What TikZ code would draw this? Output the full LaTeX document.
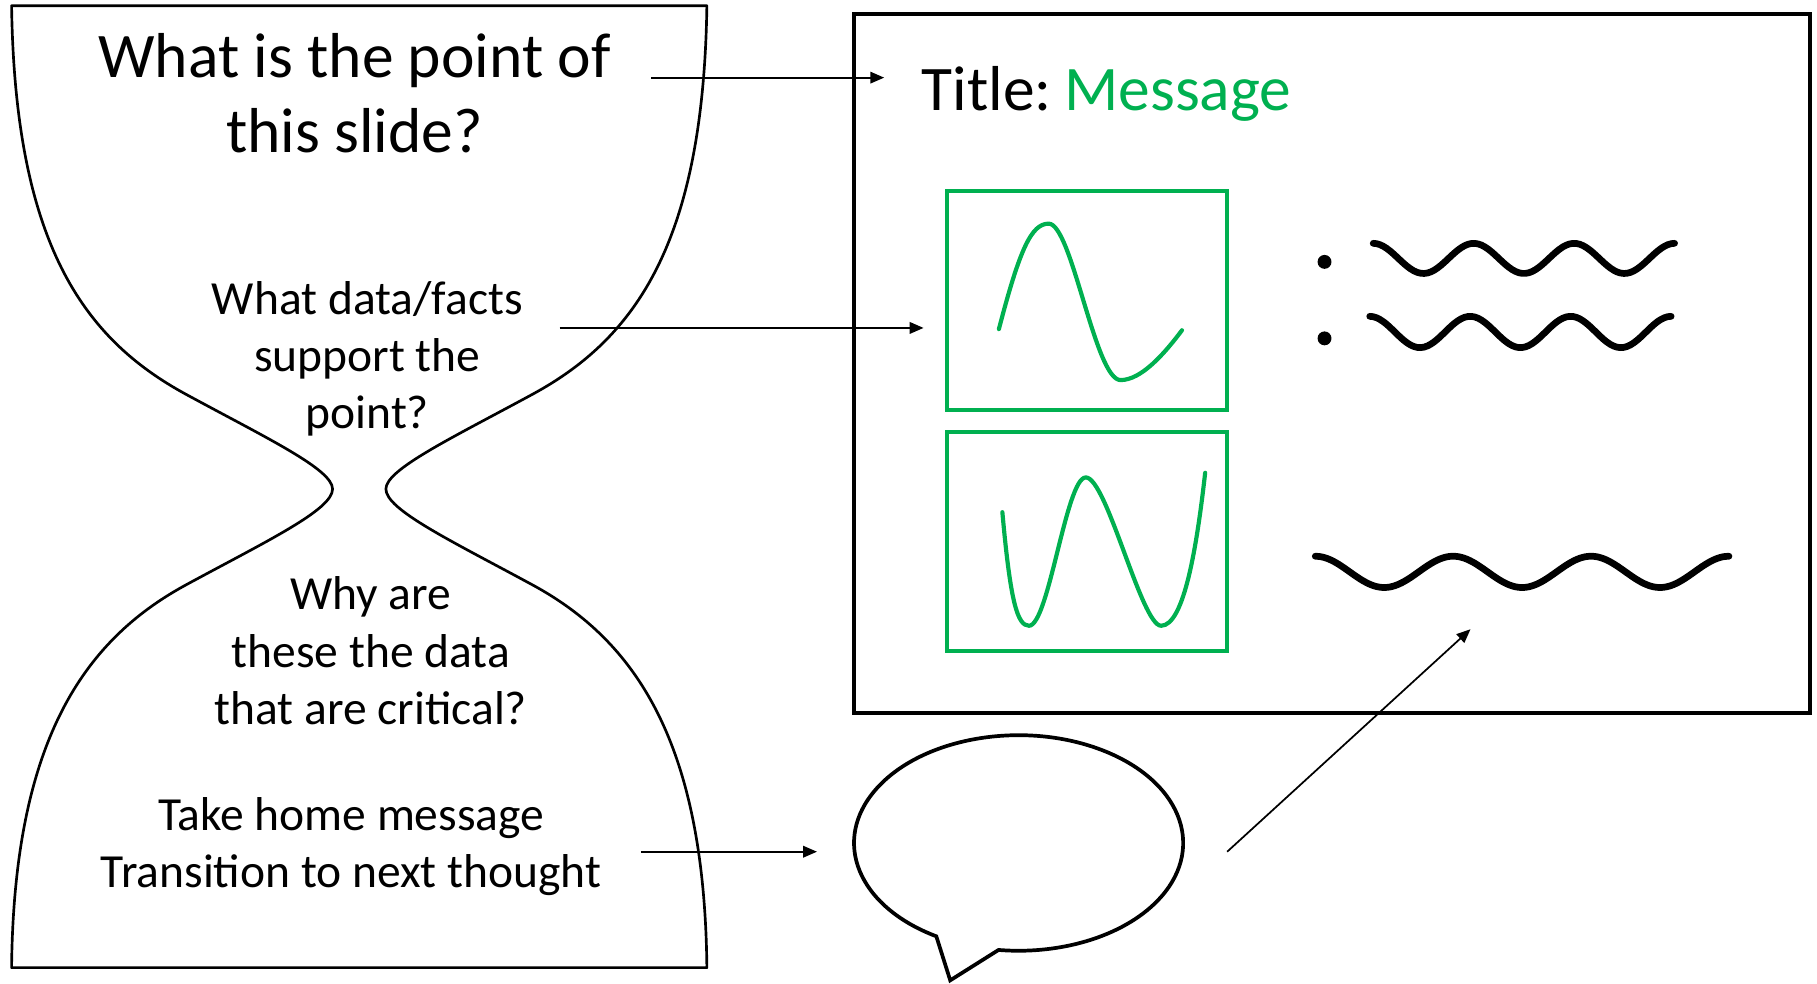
\documentclass[tikz,border=0pt]{standalone}
\usepackage{fontspec}
\setmainfont{Carlito}
\usetikzlibrary{arrows.meta}
\definecolor{msggreen}{RGB}{0,176,80}
\begin{document}
\begin{tikzpicture}[x={(0.5pt,0)}, y={(0,-0.5pt)},
  outline/.style={line width=1.15pt, line join=round},
  big/.style={font=\fontsize{27.4}{32}\selectfont, anchor=base, inner sep=0pt},
  mid/.style={font=\fontsize{20.5}{24.5}\selectfont, anchor=base, inner sep=0pt},
  link/.style={line width=0.75pt, -{Triangle[length=6pt,width=5pt]}},
  chartbox/.style={draw=msggreen, line width=1.8pt},
  chartline/.style={draw=msggreen, line width=1.8pt, line cap=round},
  squiggle/.style={line width=2.9pt, line cap=round},
]
\useasboundingbox (0,0) rectangle (1568,849);

% hourglass
\draw[outline] (10,5) .. controls (13,210) and (72,292) .. (160,340)
  .. controls (230,378) and (287,405) .. (287,422)
  .. controls (287,440) and (230,467) .. (160,505)
  .. controls (72,553) and (12,640) .. (10,835)
  -- (610,835)
  .. controls (608,640) and (548,553) .. (460,505)
  .. controls (390,467) and (333,440) .. (333,422)
  .. controls (333,405) and (390,378) .. (460,340)
  .. controls (548,292) and (607,210) .. (610,5) -- cycle;

% texts in hourglass
\node[big] (q1a) at (306,67) {What is the point of};
\node[big] (q1b) at (306,132) {this slide?};
\node[mid] (q2a) at (317,271) {What data/facts};
\node[mid] (q2b) at (317,321) {support the};
\node[mid] (q2c) at (317,370) {point?};
\node[mid] (q3a) at (320,526) {Why are};
\node[mid] (q3b) at (320,576) {these the data};
\node[mid] (q3c) at (320,625) {that are critical?};
\node[mid] (q4a) at (303,717) {Take home message};
\node[mid] (q4b) at (303,766) {Transition to next thought};

% slide
\draw[line width=1.8pt] (737,12) rectangle (1562,615);
\node[big, anchor=base west] (title) at (795,95) {Title:\hspace{0.2em}\textcolor{msggreen}{Message}};

\draw[chartbox] (817,165) rectangle (1059,354);
\draw[chartbox] (817,373) rectangle (1059,562);
\draw[chartline] (862,284) .. controls (880,215) and (890,193) .. (905,193)
  .. controls (925,193) and (945,328) .. (967,328)
  .. controls (985,328) and (1005,305) .. (1020,285);
\draw[chartline] (865,442) .. controls (872,520) and (878,540) .. (888,540)
  .. controls (905,540) and (920,412) .. (937,412)
  .. controls (955,412) and (985,540) .. (1002,540)
  .. controls (1022,540) and (1033,470) .. (1040,408);

\fill (1143,226) circle[radius=6];
\fill (1143,292) circle[radius=6];
\draw[squiggle] plot[domain=0:3, samples=90, smooth] ({1185+86.7*\x},{223-13*cos(360*\x)});
\draw[squiggle] plot[domain=0:3, samples=90, smooth] ({1182+86.7*\x},{286.5-13.5*cos(360*\x)});
\draw[squiggle] plot[domain=0:3, samples=90, smooth] ({1135+119*\x},{493.5-13.5*cos(360*\x)});

% speech bubble
\draw[line width=1.6pt] (808,808) arc[start angle=120, end angle=457, x radius=142, y radius=93] -- (820,846) -- cycle;

% arrows
\coordinate (a1s) at (562,67);  \coordinate (a1e) at (763,67);
\coordinate (a2s) at (483,283); \coordinate (a2e) at (797,283);
\coordinate (a3s) at (553,735); \coordinate (a3e) at (705,735);
\coordinate (a4s) at (1059,735); \coordinate (a4e) at (1269,543);
\draw[link] (a1s) -- (a1e);
\draw[link] (a2s) -- (a2e);
\draw[link] (a3s) -- (a3e);
\draw[link] (a4s) -- (a4e);
\end{tikzpicture}
\end{document}
